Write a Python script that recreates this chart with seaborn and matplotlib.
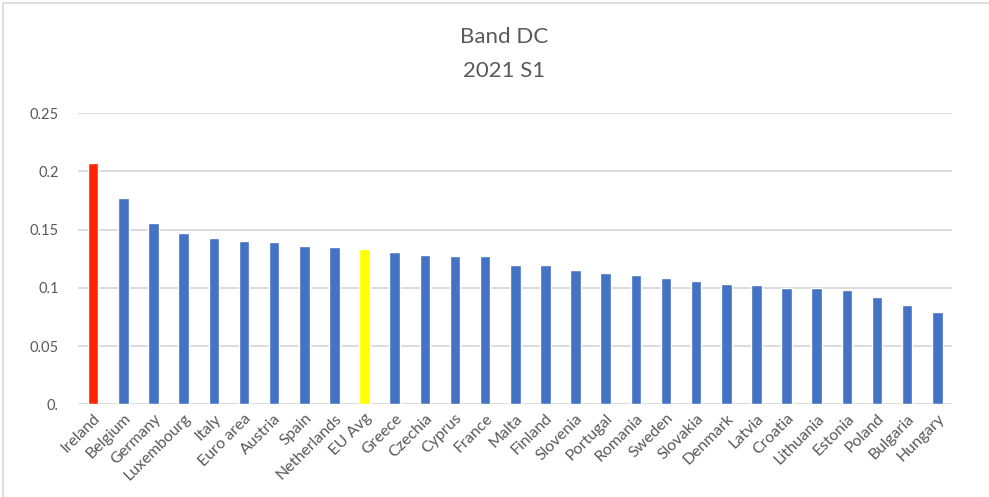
import pandas as pd
import matplotlib.pyplot as plt
import seaborn as sns
from matplotlib.patches import Rectangle

# values
countries = ["Ireland", "Belgium", "Germany", "Luxembourg", "Italy", "Euro area",
             "Austria", "Spain", "Netherlands", "EU Avg", "Greece", "Czechia",
             "Cyprus", "France", "Malta", "Finland", "Slovenia", "Portugal",
             "Romania", "Sweden", "Slovakia", "Denmark", "Latvia", "Croatia",
             "Lithuania", "Estonia", "Poland", "Bulgaria", "Hungary"]
values = [0.207, 0.177, 0.156, 0.147, 0.143, 0.140, 0.139, 0.136, 0.135, 0.133,
          0.131, 0.128, 0.127, 0.127, 0.120, 0.120, 0.115, 0.113, 0.111, 0.108,
          0.106, 0.103, 0.102, 0.100, 0.100, 0.098, 0.092, 0.085, 0.079]
y_ticks = [0, 0.05, 0.1, 0.15, 0.2, 0.25]
y_tick_labels = ["0.", "0.05", "0.1", "0.15", "0.2", "0.25"]

df = pd.DataFrame({"country": countries, "value": values})

palette = {c: "#4472C4" for c in countries}
palette["Ireland"] = "#FF2600"
palette["EU Avg"] = "#FFFF00"

sns.set_style("white")
plt.rcParams["font.family"] = ["Lato", "DejaVu Sans"]

fig = plt.figure(figsize=(9.89, 4.97), dpi=100)
ax = fig.add_axes([0.079, 0.1865, 0.884, 0.586])

sns.barplot(data=df, x="country", y="value", hue="country", palette=palette,
            width=0.35, legend=False, ax=ax, saturation=1)

ax.set_ylim(0, 0.25)
ax.set_xlim(-0.5, len(countries) - 0.5)
ax.set_yticks(y_ticks)
ax.set_yticklabels(y_tick_labels)
ax.yaxis.grid(True, color="#D9D9D9", linewidth=1.3)
ax.set_axisbelow(True)
for s in ax.spines.values():
    s.set_visible(False)
ax.set_xlabel("")
ax.set_ylabel("")
ax.tick_params(axis="y", length=0, pad=14, labelsize=10.5, labelcolor="#595959")
ax.tick_params(axis="x", length=0, pad=5, labelsize=11.5, labelcolor="#595959")
plt.setp(ax.get_xticklabels(), rotation=45, ha="right", rotation_mode="anchor")

fig.text(0.51, 0.925, "Band DC", ha="center", va="center", fontsize=16, color="#595959")
fig.text(0.51, 0.858, "2021 S1", ha="center", va="center", fontsize=16, color="#595959")

# light border round the chart, as in the original
fig.patches.append(Rectangle((0.003, -0.01), 1.2, 1.004, transform=fig.transFigure,
                             fill=False, edgecolor="#D9D9D9", linewidth=1.2))

plt.savefig("out.png", dpi=100)
